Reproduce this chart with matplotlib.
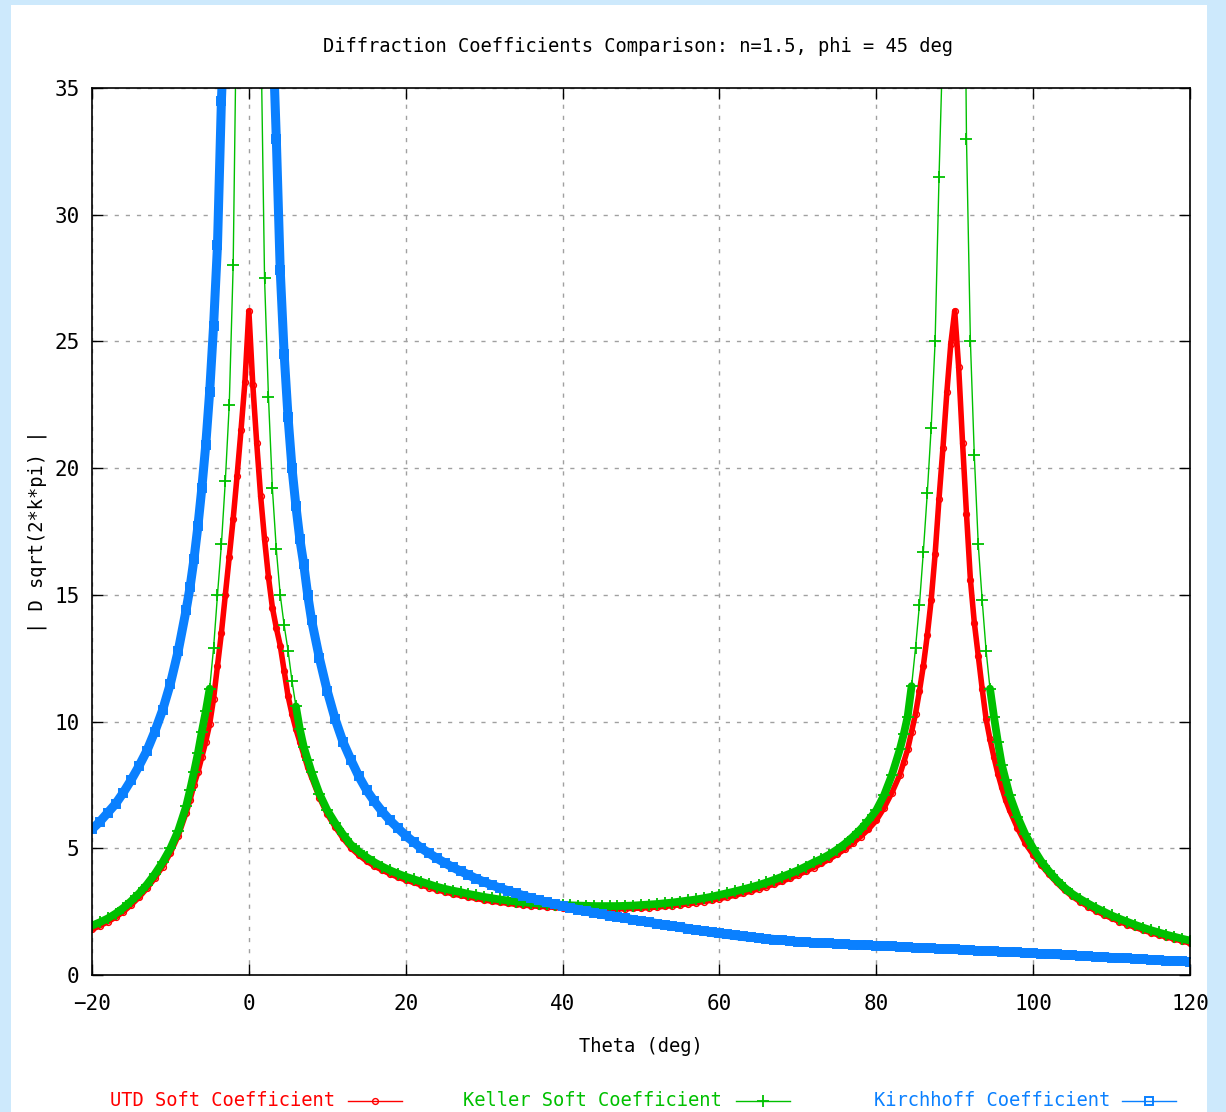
import matplotlib
matplotlib.use('Agg')
import matplotlib.pyplot as plt
from matplotlib.lines import Line2D
from matplotlib.patches import Rectangle
import numpy as np

# ---- data (theta in degrees) ----
theta = np.arange(-20, 121)

utd = [1.8, 1.94, 2.1, 2.28, 2.5, 2.77, 3.07, 3.42, 3.82, 4.28,
       4.82, 5.5, 6.4, 7.5, 8.6, 9.9, 12.2, 15.0, 18.0, 21.5,
       26.2,
       21.0, 17.2, 14.5, 13.0, 11.0, 9.7, 8.7, 7.8, 7.0, 6.35,
       5.85, 5.4, 5.02, 4.74, 4.5, 4.3, 4.14, 3.99, 3.86, 3.75,
       3.65, 3.55, 3.45, 3.36, 3.28, 3.2, 3.14, 3.08, 3.02, 2.96,
       2.91, 2.87, 2.83, 2.79, 2.76, 2.73, 2.71, 2.69, 2.67, 2.66,
       2.64, 2.63, 2.62, 2.62, 2.61, 2.61, 2.61, 2.62, 2.63, 2.64,
       2.66, 2.68, 2.71, 2.74, 2.77, 2.81, 2.85, 2.9, 2.95, 3.01,
       3.08, 3.15, 3.23, 3.31, 3.4, 3.49, 3.59, 3.7, 3.82, 3.95,
       4.09, 4.24, 4.4, 4.57, 4.76, 4.97, 5.2, 5.46, 5.75, 6.1,
       6.6, 7.2, 7.9, 8.9, 10.3, 12.2, 14.8, 18.8, 23.0, 26.2,
       21.0, 15.6, 12.6, 10.1, 8.6, 7.4, 6.5, 5.8, 5.2, 4.75,
       4.35, 3.98, 3.65, 3.35, 3.1, 2.89, 2.7, 2.53, 2.38, 2.24,
       2.11, 1.99, 1.88, 1.77, 1.67, 1.58, 1.5, 1.42, 1.34, 1.26]

keller = [1.95, 2.08, 2.23, 2.42, 2.65, 2.92, 3.22, 3.57, 3.98, 4.45,
          5.0, 5.7, 6.65, 8.0, 9.6, 11.3, 15.0, 19.5, 28.0, 60.0,
          np.nan,
          57.0, 27.5, 19.2, 15.0, 12.8, 10.6, 9.0, 8.0, 7.15, 6.5,
          6.0, 5.55, 5.15, 4.88, 4.65, 4.45, 4.28, 4.13, 4.0, 3.88,
          3.78, 3.68, 3.58, 3.48, 3.4, 3.33, 3.27, 3.2, 3.14, 3.08,
          3.03, 2.98, 2.94, 2.9, 2.87, 2.84, 2.82, 2.8, 2.78, 2.77,
          2.75, 2.74, 2.73, 2.72, 2.72, 2.72, 2.72, 2.73, 2.74, 2.76,
          2.78, 2.8, 2.83, 2.86, 2.9, 2.94, 2.98, 3.03, 3.09, 3.16,
          3.23, 3.3, 3.38, 3.46, 3.55, 3.65, 3.76, 3.88, 4.0, 4.13,
          4.28, 4.44, 4.58, 4.75, 4.95, 5.18, 5.45, 5.75, 6.1, 6.5,
          7.1, 7.9, 8.9, 10.2, 12.9, 16.7, 21.6, 31.5, 55.0, np.nan,
          50.0, 25.0, 17.0, 12.8, 10.2, 8.3, 7.1, 6.25, 5.55, 5.0,
          4.5, 4.1, 3.75, 3.45, 3.2, 3.0, 2.82, 2.65, 2.5, 2.35,
          2.22, 2.1, 1.98, 1.87, 1.77, 1.68, 1.59, 1.51, 1.43, 1.36]

kirchhoff = [5.75, 6.05, 6.4, 6.75, 7.2, 7.7, 8.25, 8.85, 9.6, 10.45,
             11.5, 12.8, 14.4, 16.4, 19.2, 23.0, 28.8, 38.3, 57.0, 110.0,
             np.nan,
             110.0, 55.0, 37.5, 27.8, 22.0, 18.5, 16.2, 14.0, 12.5, 11.2,
             10.1, 9.2, 8.5, 7.85, 7.3, 6.85, 6.45, 6.1, 5.8, 5.5,
             5.25, 5.0, 4.8, 4.6, 4.42, 4.25, 4.1, 3.95, 3.8, 3.67,
             3.55, 3.43, 3.33, 3.23, 3.13, 3.03, 2.95, 2.87, 2.79, 2.72,
             2.65, 2.58, 2.52, 2.46, 2.4, 2.34, 2.29, 2.24, 2.18, 2.13,
             2.08, 2.03, 1.98, 1.93, 1.88, 1.83, 1.78, 1.73, 1.68, 1.64,
             1.6, 1.56, 1.52, 1.49, 1.46, 1.43, 1.4, 1.37, 1.34, 1.32,
             1.3, 1.28, 1.26, 1.25, 1.23, 1.22, 1.2, 1.19, 1.17, 1.16,
             1.14, 1.13, 1.11, 1.1, 1.08, 1.07, 1.05, 1.04, 1.02, 1.01,
             0.99, 0.98, 0.96, 0.95, 0.93, 0.92, 0.9, 0.89, 0.87, 0.86,
             0.84, 0.83, 0.81, 0.79, 0.78, 0.76, 0.74, 0.72, 0.71, 0.69,
             0.67, 0.66, 0.64, 0.62, 0.61, 0.59, 0.57, 0.56, 0.54, 0.53]

# extra half-degree samples around the two peaks
theta_half0 = [-7.5, -6.5, -5.5, -4.5, -3.5, -2.5, -1.5, -0.5,
               0.5, 1.5, 2.5, 3.5, 4.5, 5.5, 6.5, 7.5]
utd_half0 = [6.9, 8.0, 9.2, 10.9, 13.5, 16.5, 19.7, 23.4,
             23.3, 18.9, 15.7, 13.7, 12.0, 10.3, 9.2, 8.2]
keller_half0 = [7.3, 8.75, 10.4, 12.9, 17.0, 22.5, 40.0, 120.0,
                115.0, 38.0, 22.8, 16.8, 13.8, 11.6, 9.7, 8.5]
kirchhoff_half0 = [15.3, 17.7, 20.9, 25.6, 34.5, 46.0, 77.0, 230.0,
                   220.0, 73.0, 44.0, 33.0, 24.5, 20.0, 17.2, 15.0]

theta_half90 = [83.5, 84.5, 85.5, 86.5, 87.5, 88.5, 89.5,
                90.5, 91.5, 92.5, 93.5, 94.5, 95.5, 96.5]
utd_half90 = [8.4, 9.6, 11.2, 13.4, 16.6, 20.8, 24.9,
              24.0, 18.2, 13.9, 11.3, 9.3, 7.95, 6.9]
keller_half90 = [9.5, 11.4, 14.6, 19.0, 25.0, 37.0, 110.0,
                 95.0, 33.0, 20.5, 14.8, 11.3, 9.2, 7.7]

labels = ['UTD Soft Coefficient', 'Keller Soft Coefficient', 'Kirchhoff Coefficient']
colors = ['#ff0000', '#00c000', '#0a80ff']

W, H = 1226, 1112
MONO = 'DejaVu Sans Mono'


def merge(xs, ys):
    x = np.concatenate([np.asarray(v, dtype=float) for v in xs])
    y = np.concatenate([np.asarray(v, dtype=float) for v in ys])
    order = np.argsort(x, kind='stable')
    return x[order], y[order]


def fx(px):
    return px / W


def fy(py):
    return 1 - py / H


plt.rcParams['font.family'] = MONO

fig = plt.figure(figsize=(W / 100, H / 100), dpi=100, facecolor='#cde9fc')
fig.add_artist(Rectangle((fx(11), 0), fx(1207) - fx(11), fy(5),
                         transform=fig.transFigure, facecolor='white',
                         edgecolor='none', zorder=0))

ax = fig.add_axes([fx(92), fy(975), fx(1190) - fx(92), fy(88) - fy(975)])

x_utd, y_utd = merge([theta, theta_half0, theta_half90], [utd, utd_half0, utd_half90])
x_kel, y_kel = merge([theta, theta_half0, theta_half90], [keller, keller_half0, keller_half90])
x_kir, y_kir = merge([theta, theta_half0], [kirchhoff, kirchhoff_half0])

# gnuplot sampled these very densely, so the markers merge into a solid band;
# a wide line under the markers stands in for that band
series = [
    (x_utd, y_utd, dict(marker='o', ms=4.2, mfc='none', mew=1.0), 4.0, None),
    (x_kel, y_kel, dict(marker='+', ms=9, mew=1.3), 5.6, 11.5),
    (x_kir, y_kir, dict(marker='s', ms=5.8, mfc='none', mew=1.4), 6.5, None),
]
z = 2
for (x, y, mk, band_w, band_top), c in zip(series, colors):
    yb = y if band_top is None else np.where(y < band_top, y, np.nan)
    ax.plot(x, yb, color=c, lw=band_w, solid_joinstyle='round',
            solid_capstyle='round', zorder=z)
    ax.plot(x, y, color=c, lw=1, zorder=z + 0.5, **mk)
    z += 1

ax.set_xlim(-20, 120)
ax.set_ylim(0, 35)
ax.set_xticks(np.arange(-20, 121, 20))
ax.set_yticks(np.arange(0, 36, 5))
ax.grid(True, color='#a0a0a0', linestyle=(0, (3, 5)), lw=1)
ax.set_axisbelow(True)
ax.tick_params(direction='in', length=8, width=1, top=True, right=True,
               labelsize=15, colors='black')
ax.tick_params(axis='x', pad=14)
ax.tick_params(axis='y', pad=9)
for sp in ax.spines.values():
    sp.set_color('black')
    sp.set_linewidth(1.2)
    sp.set_zorder(10)

ax.set_xlabel('Theta (deg)', fontsize=13.5)
ax.xaxis.set_label_coords(0.5, -(1037 - 975) / 887)
ax.set_ylabel('| D sqrt(2*k*pi) |', fontsize=13.5)
ax.yaxis.set_label_coords(-(92 - 47) / 1098, 0.5)

fig.text(fx(638), fy(47), 'Diffraction Coefficients Comparison: n=1.5, phi = 45 deg',
         ha='center', va='center', fontsize=13.5)

# legend row along the bottom, gnuplot style (text right-aligned, key after it)
key_y = fy(1101)
text_right = [335, 722, 1110]
key_left = [348, 736, 1122]
for lab, c, tr, kl, s in zip(labels, colors, text_right, key_left, series):
    fig.text(fx(tr), key_y, lab, color=c, ha='right', va='center', fontsize=13.5)
    fig.add_artist(Line2D([fx(kl), fx(kl + 27), fx(kl + 54)], [key_y] * 3,
                          transform=fig.transFigure, color=c, lw=1,
                          markevery=[1], **s[2]))

fig.savefig('out.png', dpi=100, facecolor=fig.get_facecolor())
